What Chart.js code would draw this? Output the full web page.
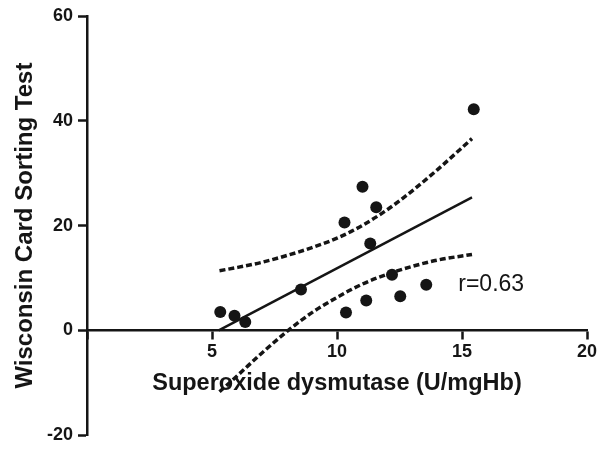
<!DOCTYPE html>
<html>
<head>
<meta charset="utf-8">
<script src="https://cdn.jsdelivr.net/npm/chart.js@4/dist/chart.umd.min.js"></script>
<style>
  html, body { margin: 0; padding: 0; background: #fff; }
  #wrap { width: 605px; height: 451px; }
</style>
</head>
<body>
<div id="wrap"><canvas id="myChart" width="605" height="451"></canvas></div>
<script>
// measured points (SOD vs WCST)
const sodValues  = [5.33, 5.9, 6.33, 8.56, 10.36, 10.3, 11.02, 11.17, 11.33, 11.57, 12.2, 12.53, 13.57, 15.47];
const wcstValues = [3.5, 2.8, 1.6, 7.8, 3.4, 20.6, 27.4, 5.7, 16.6, 23.5, 10.6, 6.5, 8.7, 42.2];

// regression line ends
const fitX = [5.27, 15.4];
const fitY = [0, 25.4];

// 95% band
const bandX     = [5.3, 6, 7, 8, 9, 10, 11, 12, 13, 14, 15.4];
const bandUpper = [11.4, 12.0, 13.0, 14.3, 15.8, 17.6, 20.0, 23.0, 26.6, 30.6, 36.6];
const bandLower = [-11.7, -8.7, -4.3, -0.2, 3.4, 6.3, 8.8, 10.7, 12.2, 13.4, 14.5];

const xTicks = [5, 10, 15, 20];
const yTicks = [-20, 0, 20, 40, 60];
const rLabel = 'r=0.63';

const ink = '#151515';
const fontFamily = '"Liberation Sans", Arial, sans-serif';

function toPoints(xs, ys) {
    return xs.map((x, i) => ({ x: x, y: ys[i] }));
}

// r value written next to the lower band
const rTextPlugin = {
    id: 'rText',
    afterDatasetsDraw(chart) {
        const { ctx, scales } = chart;
        ctx.save();
        ctx.fillStyle = ink;
        ctx.font = '23px ' + fontFamily;
        ctx.textBaseline = 'middle';
        ctx.fillText(rLabel, scales.x.getPixelForValue(14.85), scales.y.getPixelForValue(8.7));
        ctx.restore();
    }
};

const ctx = document.getElementById('myChart');

new Chart(ctx, {
    type: 'scatter',
    data: {
        datasets: [
            {
                label: 'data',
                data: toPoints(sodValues, wcstValues),
                backgroundColor: ink,
                borderColor: ink,
                pointRadius: 6,
                pointBorderWidth: 0,
                order: 0
            },
            {
                label: 'fit',
                data: toPoints(fitX, fitY),
                showLine: true,
                borderColor: ink,
                borderWidth: 2.5,
                pointRadius: 0,
                order: 1
            },
            {
                label: 'upper',
                data: toPoints(bandX, bandUpper),
                showLine: true,
                borderColor: ink,
                borderWidth: 3.5,
                borderDash: [6, 3],
                cubicInterpolationMode: 'monotone',
                pointRadius: 0,
                order: 2
            },
            {
                label: 'lower',
                data: toPoints(bandX, bandLower),
                showLine: true,
                borderColor: ink,
                borderWidth: 3.5,
                borderDash: [6, 3],
                cubicInterpolationMode: 'monotone',
                pointRadius: 0,
                order: 2
            }
        ]
    },
    options: {
        responsive: false,
        animation: false,
        layout: { padding: { left: 7, top: 16, right: 18, bottom: 11 } },
        plugins: {
            legend: { display: false },
            tooltip: { enabled: false }
        },
        scales: {
            x: {
                type: 'linear',
                position: { y: 0 },
                min: 0,
                max: 20,
                afterBuildTicks: (scale) => {
                    scale.ticks = [0].concat(xTicks).map(v => ({ value: v }));
                },
                ticks: {
                    color: ink,
                    padding: 3,
                    font: { family: fontFamily, size: 18, weight: 'bold' },
                    callback: (v) => (v === 0 ? '' : v)
                },
                grid: {
                    drawOnChartArea: false,
                    tickLength: 8,
                    tickWidth: 2.5,
                    tickColor: ink
                },
                border: { color: ink, width: 2.5 },
                title: {
                    display: true,
                    text: 'Superoxide dysmutase (U/mgHb)',
                    color: ink,
                    padding: { top: 3, bottom: 0 },
                    font: { family: fontFamily, size: 23.5, weight: 'bold' }
                }
            },
            y: {
                type: 'linear',
                position: 'left',
                min: -20,
                max: 60,
                afterBuildTicks: (scale) => {
                    scale.ticks = yTicks.map(v => ({ value: v }));
                },
                afterFit: (scale) => { scale.width = 80; },
                ticks: {
                    color: ink,
                    padding: 5,
                    font: { family: fontFamily, size: 18, weight: 'bold' }
                },
                grid: {
                    drawOnChartArea: false,
                    tickLength: 9,
                    tickWidth: 2.5,
                    tickColor: ink
                },
                border: { color: ink, width: 2.5 },
                title: {
                    display: true,
                    text: 'Wisconsin Card Sorting Test',
                    color: ink,
                    padding: { top: 4, bottom: 4 },
                    font: { family: fontFamily, size: 24, weight: 'bold' }
                }
            }
        }
    },
    plugins: [rTextPlugin]
});
</script>
</body>
</html>
